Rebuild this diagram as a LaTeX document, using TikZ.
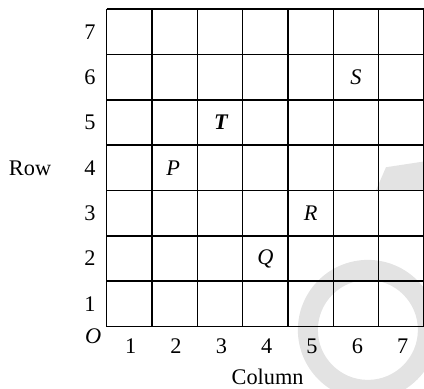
\documentclass[tikz,border=0pt]{standalone}
\usepackage{fontspec}
\setmainfont{Liberation Serif}
\begin{document}
\begin{tikzpicture}[
  gridline/.style={line width=1pt, black},
  lbl/.style={font=\fontsize{14}{16}\selectfont, inner sep=0pt},
  cellletter/.style={font=\fontsize{14}{16}\selectfont\itshape, inner sep=0pt},
  wm/.style={fill=black!11, draw=none}
]
\useasboundingbox (-2.353,-1.374) rectangle (7.0,7.204);
% watermark
\begin{scope}
\clip (-2.353,-1.374) rectangle (7.0,7.204);
\fill[wm, even odd rule] (5.762,-0.073) circle (1.544) (5.762,-0.073) circle (1.103);
\fill[wm] (5.941,3.007) -- (6.161,3.515) -- (7.05,3.65) -- (7.05,3.007) -- cycle;
\end{scope}
% grid
\draw[gridline] (0,0) grid (7,7);
% row labels
\foreach \r in {1,...,7} {
  \node[lbl] (row\r) at (-0.368,\r-0.5) {\r};
}
% column labels
\foreach \c in {1,...,7} {
  \node[lbl] (col\c) at (\c-0.47,-0.44) {\c};
}
\node[lbl, font=\fontsize{14}{16}\selectfont\itshape] (O) at (-0.30,-0.21) {O};
\node[lbl] (rowtitle) at (-1.69,3.5) {Row};
\node[lbl] (coltitle) at (3.55,-1.12) {Column};
% letters
\node[cellletter] (S) at (5.5,5.5) {S};
\node[cellletter, font=\fontsize{14}{16}\selectfont\bfseries\itshape] (T) at (2.52,4.5) {T};
\node[cellletter] (P) at (1.47,3.5) {P};
\node[cellletter] (R) at (4.5,2.5) {R};
\node[cellletter] (Q) at (3.5,1.5) {Q};
\end{tikzpicture}
\end{document}
